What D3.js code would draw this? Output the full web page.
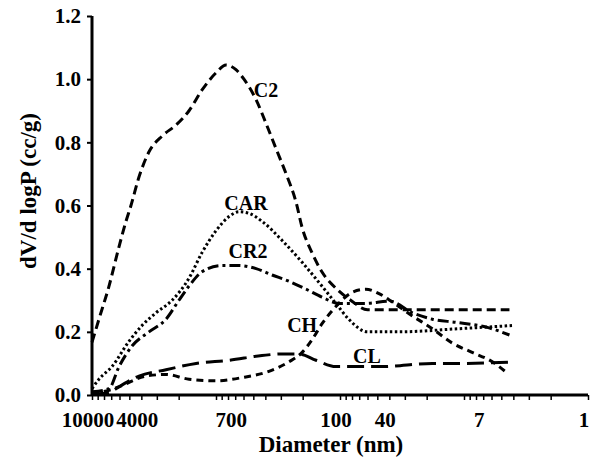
<!DOCTYPE html>
<html>
<head>
<meta charset="utf-8">
<script src="https://cdn.jsdelivr.net/npm/d3@7"></script>
<style>
  body { margin: 0; background: #fff; }
  svg text { font-family: "Liberation Serif", "Times New Roman", serif; font-weight: bold; fill: #000; }
</style>
</head>
<body>
<div class="grp"></div>
<script>
// diameters (nm) and dV/d logP values
var dC2  = [10000, 8790, 7300, 6050, 5320, 4850, 4180, 3470, 2720, 2100, 1650, 1300, 1000, 830, 690, 595, 475, 395, 328, 272, 226, 202, 168, 140, 106, 82, 60, 4.3]
var vC2  = [0.167, 0.24, 0.344, 0.47, 0.55, 0.60, 0.69, 0.77, 0.82, 0.855, 0.90, 0.965, 1.02, 1.045, 1.03, 1.0, 0.935, 0.86, 0.78, 0.70, 0.61, 0.53, 0.45, 0.39, 0.335, 0.30, 0.27, 0.27]

var dCAR = [10000, 8790, 6900, 5030, 3950, 3050, 2260, 1650, 1300, 1000, 785, 653, 540, 426, 294, 202, 140, 108, 85, 60, 33, 11, 4.1]
var vCAR = [0.02, 0.05, 0.09, 0.17, 0.22, 0.26, 0.30, 0.37, 0.45, 0.52, 0.565, 0.58, 0.575, 0.55, 0.49, 0.42, 0.345, 0.29, 0.24, 0.20, 0.20, 0.21, 0.22]

var dCR2 = [10000, 7300, 6050, 4760, 3470, 2530, 1990, 1650, 1300, 895, 653, 475, 353, 258, 188, 140, 102, 62, 40, 26, 18, 11.6, 6.6, 4.3]
var vCR2 = [0.01, 0.02, 0.09, 0.155, 0.20, 0.24, 0.30, 0.345, 0.39, 0.41, 0.41, 0.40, 0.38, 0.36, 0.335, 0.31, 0.29, 0.29, 0.297, 0.26, 0.24, 0.23, 0.215, 0.19]

var dCH  = [10000, 7300, 5730, 3670, 2530, 1650, 1000, 617, 374, 258, 202, 168, 140, 108, 80, 62, 48, 38, 26, 18, 12.5, 8.6, 5.9, 4.5]
var vCH  = [0.005, 0.015, 0.03, 0.06, 0.065, 0.05, 0.045, 0.055, 0.075, 0.105, 0.135, 0.175, 0.225, 0.28, 0.325, 0.335, 0.32, 0.295, 0.25, 0.21, 0.165, 0.135, 0.105, 0.07]

var dCL  = [10000, 7300, 6400, 4180, 2530, 1450, 785, 426, 294, 214, 156, 108, 80, 46, 18, 10, 3.9]
var vCL  = [0.003, 0.006, 0.02, 0.06, 0.08, 0.10, 0.11, 0.125, 0.13, 0.13, 0.11, 0.09, 0.09, 0.09, 0.10, 0.10, 0.105]

var seriesNames = ['C2', 'CAR', 'CR2', 'CH', 'CL']
var labelD = [395, 573, 552, 202, 60.6]
var labelV = [0.944, 0.586, 0.434, 0.20, 0.101]

var xTickLabels = [10000, 4000, 700, 100, 40, 7, 1]
var yTicks = [0, 0.2, 0.4, 0.6, 0.8, 1.0, 1.2]

var width = 595, height = 457

var svg = d3.select(".grp").append("svg")
    .attr("width", width)
    .attr("height", height)

var x = d3.scaleLog().domain([10000, 1]).range([92, 588])
var y = d3.scaleLinear().domain([0, 1.2]).range([395, 16])

// minor + major ticks for every integer step of each decade
var allTicks = []
for (var k = 0; k < 4; k++) {
    for (var m = 1; m <= 9; m++) allTicks.push(m * Math.pow(10, k))
}
allTicks.push(10000)

var xAxis = svg.append("g")
    .attr("transform", "translate(0," + y(0) + ")")
    .call(d3.axisBottom(x).tickValues(allTicks).tickSize(5).tickFormat(""))
xAxis.select(".domain").attr("stroke-width", 3).attr("d", "M" + x(10000) + ",0H" + x(1))
xAxis.selectAll(".tick line").attr("stroke-width", 1.5)

svg.append("g").selectAll("text")
    .data(xTickLabels)
    .enter().append("text")
    .attr("x", function (d) { return x(d) - 4 })
    .attr("y", 427)
    .attr("text-anchor", "middle")
    .style("font-size", "21px")
    .text(function (d) { return d })

var yAxis = svg.append("g")
    .attr("transform", "translate(" + x(10000) + ",0)")
    .call(d3.axisLeft(y).tickValues(yTicks).tickSize(5).tickPadding(6).tickFormat(d3.format(".1f")))
yAxis.select(".domain").attr("stroke-width", 3).attr("d", "M0," + y(1.2) + "V" + y(0))
yAxis.selectAll(".tick line").attr("stroke-width", 2)
yAxis.selectAll(".tick text")
    .style("font-size", "21px")
    .style("font-family", "Liberation Serif, serif")
    .style("font-weight", "bold")

svg.append("text")
    .attr("x", 331)
    .attr("y", 452)
    .attr("text-anchor", "middle")
    .style("font-size", "23px")
    .text("Diameter (nm)")

svg.append("text")
    .attr("transform", "translate(36,191) rotate(-90)")
    .attr("text-anchor", "middle")
    .style("font-size", "23px")
    .text("dV/d logP (cc/g)")

var series = [
    { d: dC2, v: vC2, dash: "9,5" },
    { d: dCAR, v: vCAR, dash: "2.5,2.5" },
    { d: dCR2, v: vCR2, dash: "11,4,3,4" },
    { d: dCH, v: vCH, dash: "7,5" },
    { d: dCL, v: vCL, dash: "17,7" }
]

var line = d3.line()
    .x(function (p) { return x(p[0]) })
    .y(function (p) { return y(p[1]) })
    .curve(d3.curveMonotoneX)

series.forEach(function (s) {
    var pts = s.d.map(function (dd, i) { return [dd, s.v[i]] })
    svg.append("path")
        .datum(pts)
        .attr("d", line)
        .attr("fill", "none")
        .attr("stroke", "#000")
        .attr("stroke-width", 3)
        .attr("stroke-dasharray", s.dash)
})

svg.append("g").selectAll("text")
    .data(seriesNames)
    .enter().append("text")
    .attr("x", function (d, i) { return x(labelD[i]) })
    .attr("y", function (d, i) { return y(labelV[i]) })
    .attr("text-anchor", "middle")
    .style("font-size", "20px")
    .text(function (d) { return d })
</script>
</body>
</html>
